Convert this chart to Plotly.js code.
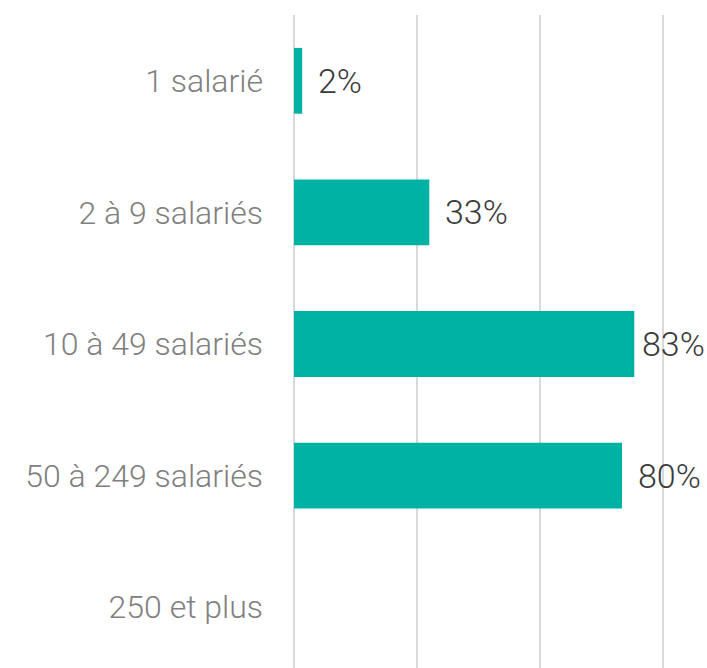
<!DOCTYPE html>
<html>
<head>
<meta charset="utf-8">
<script src="https://cdn.plot.ly/plotly-3.0.1.min.js"></script>
<style>
html,body{margin:0;padding:0;overflow:hidden;background:#fff;}
</style>
</head>
<body>
<div id="chart"></div>
<script>
const categories = ["1 salarié", "2 à 9 salariés", "10 à 49 salariés", "50 à 249 salariés", "250 et plus"];
const values = [2, 33, 83, 80, null];
const valueLabels = ["2%", "33%", "83%", "80%", ""];

const xMax = 100;
const plotLeft = 294, plotRight = 3, W = 707;
const pxPerUnit = (W - plotLeft - plotRight) / xMax;

const trace = {
  type: "bar",
  orientation: "h",
  y: categories,
  x: values,
  marker: {color: "#00b2a3"},
  hoverinfo: "skip"
};

const labelFont = {family: "Roboto", size: 34, color: "#3a3a3a", weight: 300};
const annotations = [];
values.forEach((v, i) => {
  if (v === null || v === undefined) return;
  const endPx = v * pxPerUnit + 16 + 64;
  const overflow = endPx > (W - plotLeft - plotRight);
  annotations.push(overflow ? {
    xref: "paper", yref: "y", x: 1, y: categories[i], xanchor: "right", yanchor: "middle",
    xshift: 3, text: valueLabels[i], showarrow: false, font: labelFont
  } : {
    xref: "x", yref: "y", x: v, y: categories[i], xanchor: "left", yanchor: "middle",
    xshift: 14, text: valueLabels[i], showarrow: false, font: labelFont
  });
});

const layout = {
  width: W,
  height: 673,
  margin: {l: plotLeft, r: plotRight, t: 15, b: 0, pad: 0},
  paper_bgcolor: "#fff",
  plot_bgcolor: "#fff",
  bargap: 0.5,
  showlegend: false,
  xaxis: {
    range: [0, xMax],
    dtick: 30,
    tick0: 0,
    showticklabels: false,
    ticks: "",
    showgrid: true,
    gridcolor: "#d9d9d9",
    gridwidth: 2,
    zeroline: true,
    zerolinecolor: "#d9d9d9",
    zerolinewidth: 2,
    fixedrange: true
  },
  yaxis: {
    autorange: "reversed",
    ticks: "",
    ticklabelstandoff: 30,
    tickfont: {family: "Roboto", size: 32, color: "#808080", weight: 300},
    showgrid: false,
    zeroline: false,
    fixedrange: true
  },
  annotations: annotations
};

Plotly.newPlot("chart", [trace], layout, {displayModeBar: false, staticPlot: true});
</script>
</body>
</html>
